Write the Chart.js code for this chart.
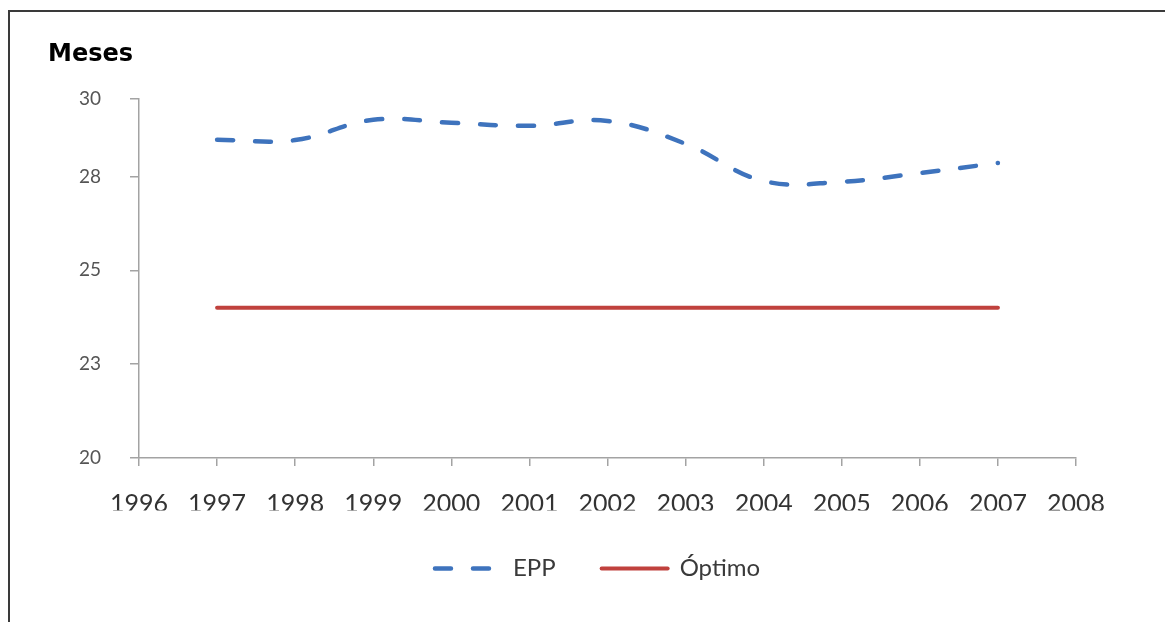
<!DOCTYPE html>
<html>
<head>
<meta charset="utf-8">
<script src="https://cdn.jsdelivr.net/npm/chart.js@4.4.1/dist/chart.umd.min.js"></script>
<style>
  html, body { margin: 0; padding: 0; background: #ffffff; }
  body { width: 1165px; height: 622px; position: relative; overflow: hidden; }
  #frame { position: absolute; left: 8px; top: 10px; width: 1300px; height: 800px;
           border-left: 2px solid #3a3a3a; border-top: 2px solid #3a3a3a; }
  #wrap { position: absolute; left: 0; top: 0; width: 1165px; height: 622px; z-index: 2; }
</style>
</head>
<body>
<div id="frame"></div>
<div id="wrap"><canvas id="c" width="1165" height="622"></canvas></div>
<script>
// ---- data ----
const years = ["1996","1997","1998","1999","2000","2001","2002","2003","2004","2005","2006","2007","2008"];
const eppValues = [null, 28.48, 28.47, 29.01, 28.93, 28.85, 28.98, 28.37, 27.38, 27.36, 27.59, 27.86, null];
const optimoValues = [null, 24, 24, 24, 24, 24, 24, 24, 24, 24, 24, 24, null];
const yTickValues = [20, 22.5, 25, 27.5, 29.57];
const yTickLabels = ["20", "23", "25", "28", "30"];
const yAxisTitle = "Meses";
const seriesNames = ["EPP", "Óptimo"];

const axisColor = '#a3a3a3';

new Chart(document.getElementById('c'), {
  type: 'line',
  data: {
    labels: years,
    datasets: [
      {
        label: seriesNames[0],
        data: eppValues,
        borderColor: '#3e73bd',
        backgroundColor: '#3e73bd',
        borderWidth: 4.5,
        borderDash: [16, 22],
        borderCapStyle: 'round',
        tension: 0.4,
        pointRadius: 0,
        fill: false,
        yAxisID: 'y'
      },
      {
        label: seriesNames[1],
        data: optimoValues,
        borderColor: '#c0413d',
        backgroundColor: '#c0413d',
        borderWidth: 4,
        borderCapStyle: 'round',
        tension: 0,
        pointRadius: 0,
        fill: false,
        yAxisID: 'y'
      }
    ]
  },
  options: {
    responsive: false,
    animation: false,
    layout: { padding: { left: 48, right: 18, top: 0, bottom: 31.5 } },
    plugins: {
      title: {
        display: true,
        text: yAxisTitle,
        align: 'start',
        color: '#000000',
        font: { family: '"DejaVu Sans", sans-serif', size: 24, weight: 'bold' },
        padding: { top: 40, bottom: 30 }
      },
      tooltip: { enabled: false },
      legend: {
        display: true,
        position: 'bottom',
        labels: {
          usePointStyle: true,
          pointStyle: 'line',
          pointStyleWidth: 66,
          boxHeight: 4,
          padding: 46,
          color: '#3a3a3a',
          font: { family: 'Lato, "Open Sans", sans-serif', size: 24 },
          generateLabels(chart) {
            const items = Chart.defaults.plugins.legend.labels.generateLabels(chart);
            items.forEach(it => {
              const ds = chart.data.datasets[it.datasetIndex];
              it.lineDash = ds.borderDash || [];
              it.lineCap = 'round';
              it.lineWidth = ds.borderWidth;
              it.strokeStyle = ds.borderColor;
            });
            return items;
          }
        }
      }
    },
    scales: {
      x: {
        type: 'category',
        offset: false,
        afterFit(scale) { scale.height = 52.5; },
        grid: {
          display: true, drawOnChartArea: false, drawTicks: true,
          tickLength: 8, color: axisColor, lineWidth: 1.5, offset: false
        },
        border: { display: true, color: axisColor, width: 1.5 },
        ticks: {
          autoSkip: false, maxRotation: 0, padding: 23,
          color: '#333333',
          font: { family: 'Lato, "Open Sans", sans-serif', size: 25 }
        }
      },
      y: {
        type: 'linear',
        position: 'left',
        min: 20,
        max: 29.57,
        afterFit(scale) { scale.width = 91; },
        afterBuildTicks(scale) { scale.ticks = yTickValues.map(v => ({ value: v })); },
        grid: {
          display: true, drawOnChartArea: false, drawTicks: true,
          tickLength: 9, color: axisColor, lineWidth: 1.5
        },
        border: { display: true, color: axisColor, width: 1.5 },
        ticks: {
          padding: 29,
          color: '#555555',
          font: { family: 'Lato, "Open Sans", sans-serif', size: 19 },
          callback(value, index) { return yTickLabels[index]; }
        }
      },
      spacer: {
        type: 'linear',
        position: 'right',
        display: true,
        afterFit(scale) { scale.width = 71; },
        grid: { display: false, drawTicks: false },
        border: { display: false },
        ticks: { display: false }
      }
    }
  }
});
</script>
</body>
</html>
